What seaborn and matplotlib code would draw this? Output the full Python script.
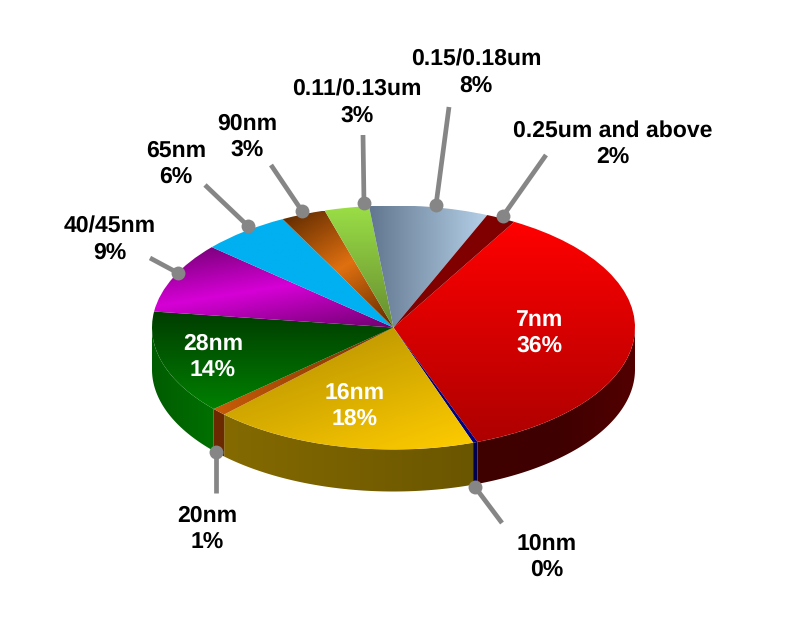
import numpy as np
import matplotlib
matplotlib.use("Agg")
import matplotlib.pyplot as plt
from matplotlib.patches import Polygon
import seaborn as sns

# ---- data ----
nodes = ["7nm", "10nm", "16nm", "20nm", "28nm", "40/45nm", "65nm", "90nm",
         "0.11/0.13um", "0.15/0.18um", "0.25um and above"]
shares = [36.2, 0.3, 17.8, 1, 13.8, 9.4, 6, 3, 3, 8, 2]
share_labels = ["36%", "0%", "18%", "1%", "14%", "9%", "6%", "3%", "3%", "8%", "2%"]

# ---- style: colour stops and gradient direction (degrees, screen sense) ----
top_stops = [["#ff0000", "#ae0000"], ["#000080", "#000080"], ["#ad8a00", "#ffcc00"],
             ["#c85c08", "#7a3000"], ["#003c00", "#008000"],
             ["#700070", "#d600d6", "#700070"], ["#00b0f0", "#00b0f0"],
             ["#5a2800", "#e07010", "#5a2800"], ["#9ade46", "#668c30"],
             ["#62778f", "#b4d0e8"], ["#800000", "#800000"]]
top_dirs = [90, 0, 55, 0, 90, 65, 0, 60, 90, 0, 0]
side_stops = [["#400000", "#3e0000", "#520000"], ["#000050", "#000050"], ["#846a00", "#6b5600"],
              ["#6b2a00", "#6b2a00"], ["#005c00", "#007000"], ["#600060", "#600060"],
              ["#0080b0", "#0080b0"], ["#5a2800", "#5a2800"], ["#4a6a20", "#4a6a20"],
              ["#506070", "#506070"], ["#500000", "#500000"]]

W, H = 802, 617
CX, CY, RX, RY, DEPTH = 393.5, 327.5, 241.5, 122.0, 42.0

sns.set_theme(style="white")
plt.rcParams["font.family"] = ["Liberation Sans", "DejaVu Sans"]
plt.rcParams["text.hinting"] = "no_hinting"
plt.rcParams["text.hinting_factor"] = 1


def dx(px):
    return (px - CX) / RX


def dy(py):
    return (CY - py) / RY


def paint(ax, patch, stops, direction):
    """Fill a patch with a linear gradient clipped to its outline."""
    patch.set_facecolor("none")
    patch.set_edgecolor("none")
    bb = patch.get_path().transformed(patch.get_patch_transform()).get_extents()
    ys, xs = np.mgrid[0:1:96j, 0:1:96j]
    a = np.deg2rad(direction)
    t = xs * np.cos(a) + ys * np.sin(a)
    t = (t - t.min()) / max(t.max() - t.min(), 1e-9)
    cmap = sns.blend_palette(stops, as_cmap=True)
    im = ax.imshow(t, cmap=cmap, vmin=0, vmax=1, origin="upper", aspect="auto",
                   extent=(bb.x0, bb.x1, bb.y0, bb.y1), interpolation="bilinear",
                   zorder=patch.get_zorder())
    im.set_clip_path(patch)


fig = plt.figure(figsize=(W / 100, H / 100), dpi=100, facecolor="white")
ax = fig.add_axes([0, 0, 1, 1])

wedges, _ = ax.pie(shares, startangle=60, counterclock=False, radius=1, center=(0, 0))

depth = DEPTH / RY
for w, stops in zip(wedges, side_stops):
    lo, hi = sorted((w.theta1, w.theta2))
    # keep the part of each slice's rim facing the viewer
    angs = np.linspace(lo, hi, 160)
    angs = angs[np.sin(np.deg2rad(angs)) <= 0.0]
    if len(angs) < 2:
        continue
    th = np.deg2rad(angs)
    x, y = np.cos(th), np.sin(th)
    verts = np.r_[np.c_[x, y], np.c_[x, y - depth][::-1]]
    side = Polygon(verts, closed=True, transform=ax.transData, zorder=1)
    ax.add_patch(side)
    paint(ax, side, stops, 0)

for w, stops, d in zip(wedges, top_stops, top_dirs):
    w.set_zorder(2)
    paint(ax, w, stops, d)

ax.set_aspect("auto")
ax.set_xlim(dx(0), dx(W))
ax.set_ylim(dy(H), dy(0))
ax.set_axis_off()

# ---- leader lines: label end, rim end ----
leaders = {"0.25um and above": (546, 155, 503, 216), "0.15/0.18um": (449, 107, 436, 205),
           "0.11/0.13um": (363, 135, 364, 203), "90nm": (271, 165, 302, 211),
           "65nm": (205, 185, 248, 226), "40/45nm": (150, 258, 178, 273),
           "20nm": (216, 493, 216, 452), "10nm": (502, 523, 475, 487)}
for name, (x0, y0, x1, y1) in leaders.items():
    ax.plot([dx(x0), dx(x1)], [dy(y0), dy(y1)], color="#868686", lw=3.4,
            solid_capstyle="butt", zorder=5)
    ax.plot([dx(x1)], [dy(y1)], "o", color="#868686", ms=10, mew=0, zorder=6)

# ---- labels ----
label_pos = {"7nm": (539, 333), "10nm": (547, 557), "16nm": (355, 406), "20nm": (207, 529),
             "28nm": (213, 357), "40/45nm": (110, 240), "65nm": (176, 164), "90nm": (247, 137),
             "0.11/0.13um": (357, 103), "0.15/0.18um": (476, 73), "0.25um and above": (613, 144)}
inside = {"7nm", "16nm", "28nm"}
for name, pct in zip(nodes, share_labels):
    px, py = label_pos[name]
    ax.text(dx(px), dy(py), f"{name}\n{pct}", ha="center", va="center", fontsize=16.4,
            fontweight="bold", linespacing=1.3,
            color="white" if name in inside else "black", zorder=7)

fig.savefig("out.png", dpi=100, facecolor="white")
